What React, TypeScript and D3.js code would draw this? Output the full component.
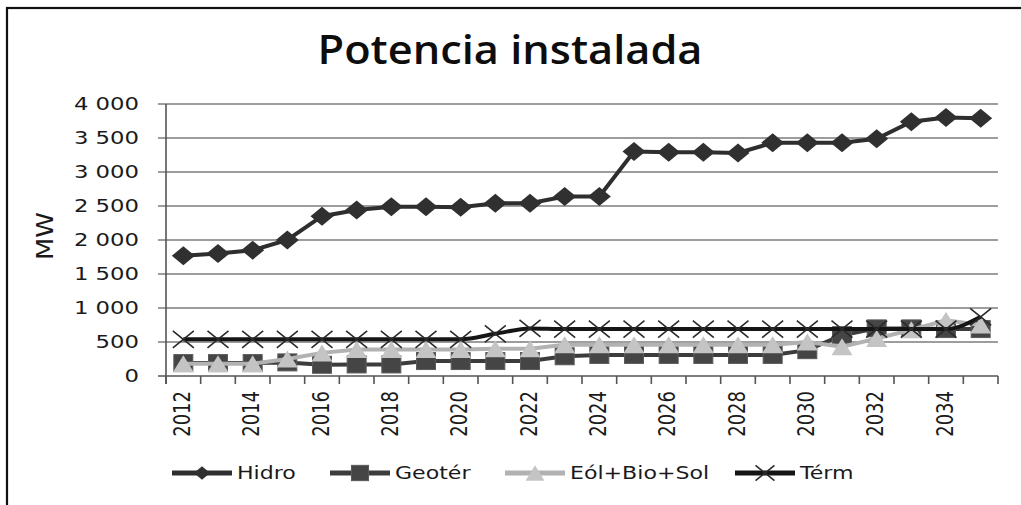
import React from 'react';
import * as d3 from 'd3';

const years = d3.range(2012, 2036);
const yearLabels = [2012, 2014, 2016, 2018, 2020, 2022, 2024, 2026, 2028, 2030, 2032, 2034];
const yTicks = [0, 500, 1000, 1500, 2000, 2500, 3000, 3500, 4000];

const hidro = [1770, 1800, 1850, 2000, 2350, 2440, 2490, 2490, 2480, 2540, 2540, 2640,
  2640, 3300, 3290, 3290, 3280, 3430, 3430, 3430, 3490, 3740, 3800, 3790];
const geoter = [190, 190, 190, 200, 165, 170, 170, 220, 220, 220, 220, 290,
  310, 310, 310, 310, 310, 310, 380, 600, 700, 700, 690, 690];
const eolico = [180, 180, 180, 250, 340, 390, 390, 390, 390, 400, 400, 460,
  460, 460, 460, 460, 460, 460, 500, 430, 550, 680, 820, 750];
const termico = [540, 540, 540, 540, 540, 540, 540, 540, 540, 620, 700, 690,
  690, 690, 690, 690, 690, 690, 690, 690, 690, 690, 690, 870];

const seriesNames = ['Hidro', 'Geotér', 'Eól+Bio+Sol', 'Térm'];

const SX = 1.3; // source image is stretched sideways
const FONT = 'DejaVu Sans, Verdana, sans-serif';

const margin = {left: 166, right: 998, top: 104, bottom: 376};

function Marker({kind, x, y, s = 1}: {kind: string, x: number, y: number, s?: number}) {
  if (kind === 'diamond') {
    const w = 11.5 * s, h = 9.5 * s;
    return <path d={`M${x - w},${y}L${x},${y - h}L${x + w},${y}L${x},${y + h}Z`} fill="#303030" />;
  }
  if (kind === 'square') {
    const w = 9.5 * s, h = 8.5 * s;
    return <rect x={x - w} y={y - h} width={2 * w} height={2 * h} fill="#454545" stroke="#5a5a5a" strokeWidth={1} />;
  }
  if (kind === 'triangle') {
    const w = 10.5 * s, h = 8.5 * s;
    return <path d={`M${x - w},${y + h}L${x},${y - h}L${x + w},${y + h}Z`} fill="#c4c4c4" />;
  }
  const w = 10.5 * s, h = 8.5 * s;
  return <path d={`M${x - w},${y - h}L${x + w},${y + h}M${x - w},${y + h}L${x + w},${y - h}`}
               stroke="#2a2a2a" strokeWidth={1.6} fill="none" />;
}

export default function App() {
  const x = d3.scaleBand<number>()
    .domain(years)
    .range([margin.left, margin.right])
    .padding(0);
  const bw = x.bandwidth();
  const cx = (yr: number) => (x(yr) as number) + bw / 2;

  const y = d3.scaleLinear()
    .domain([0, 4000])
    .range([margin.bottom, margin.top]);

  const series = [
    {name: seriesNames[0], data: hidro, color: '#2e2e2e', marker: 'diamond', curve: d3.curveLinear},
    {name: seriesNames[1], data: geoter, color: '#3c3c3c', marker: 'square', curve: d3.curveLinear},
    {name: seriesNames[2], data: eolico, color: '#b2b2b2', marker: 'triangle', curve: d3.curveLinear},
    {name: seriesNames[3], data: termico, color: '#151515', marker: 'x', curve: d3.curveMonotoneX},
  ];

  const fmt = (v: number) => v >= 1000 ? `${Math.floor(v / 1000)} ${String(v % 1000).padStart(3, '0')}` : String(v);

  const boundaries = [...years.map(yr => x(yr) as number), margin.right];

  const legendX = [172, 330, 505, 735];

  return (
    <svg width={1021} height={505} style={{position: 'absolute', left: 0, top: 0, background: '#fff'}}>
      <rect x={7} y={8} width={1040} height={520} fill="#fff" stroke="#111" strokeWidth={2.2} />

      <text x={510} y={64} textAnchor="middle" fontFamily="Open Sans, Lato, sans-serif" fontSize={40}
            fontWeight={600} textLength={385} lengthAdjust="spacingAndGlyphs" fill="#0d0d0d">Potencia instalada</text>

      {/* gridlines */}
      {yTicks.map(t => (
        <line key={t} x1={margin.left - 8} x2={margin.right} y1={y(t)} y2={y(t)}
              stroke={t === 0 ? '#555' : '#7d7d7d'} strokeWidth={1.6} />
      ))}
      <line x1={margin.left} x2={margin.left} y1={margin.top} y2={margin.bottom + 8} stroke="#555" strokeWidth={1.6} />
      {boundaries.map((b, i) => (
        <line key={i} x1={b} x2={b} y1={margin.bottom} y2={margin.bottom + 8} stroke="#555" strokeWidth={1.6} />
      ))}

      {/* y tick labels */}
      {yTicks.map(t => (
        <text key={t} transform={`translate(139,${y(t)}) scale(${SX},1)`} textAnchor="end" dy="0.36em"
              fontFamily={FONT} fontSize={17.5} fill="#1a1a1a">{fmt(t)}</text>
      ))}
      <text transform={`translate(53,236) scale(${SX},1) rotate(-90)`} textAnchor="middle"
            fontFamily={FONT} fontSize={17} textLength={48} lengthAdjust="spacingAndGlyphs" fill="#1a1a1a">MW</text>

      {/* x labels */}
      {yearLabels.map(yr => (
        <text key={yr} transform={`translate(${cx(yr) + 6.5},391) scale(${SX},1) rotate(-90)`} textAnchor="end"
              fontFamily={FONT} fontSize={18} fill="#1a1a1a">{yr}</text>
      ))}

      {/* series */}
      {series.map(s => {
        const line = d3.line<number>()
          .x((_, i) => cx(years[i]))
          .y(d => y(d))
          .curve(s.curve);
        return (
          <g key={s.name}>
            <path d={line(s.data) || ''} fill="none" stroke={s.color} strokeWidth={4} />
            {s.data.map((v, i) => <Marker key={i} kind={s.marker} x={cx(years[i])} y={y(v)} />)}
          </g>
        );
      })}

      {/* legend */}
      {series.map((s, i) => (
        <g key={s.name}>
          <line x1={legendX[i]} x2={legendX[i] + 60} y1={473} y2={473} stroke={s.color} strokeWidth={5} />
          <Marker kind={s.marker} x={legendX[i] + 30} y={473} s={s.marker === 'diamond' ? 0.7 : 0.9} />
          <text transform={`translate(${legendX[i] + 65},473) scale(${SX},1)`} dy="0.36em"
                fontFamily={FONT} fontSize={17} fill="#1a1a1a">{s.name}</text>
        </g>
      ))}
    </svg>
  );
}
